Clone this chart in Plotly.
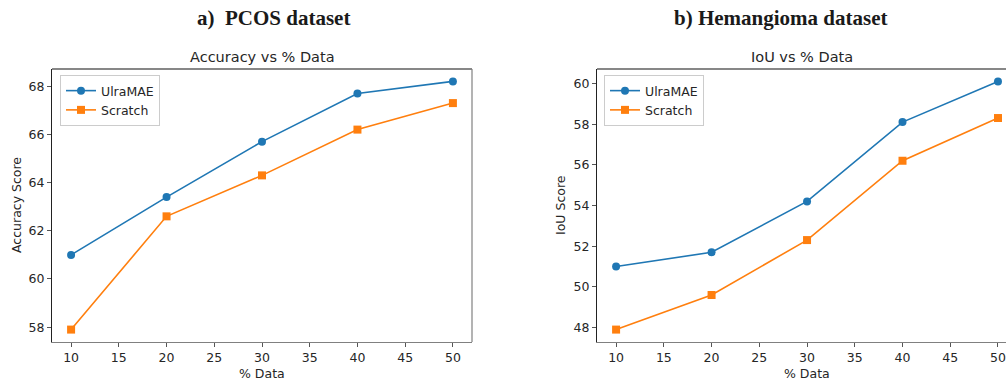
import plotly.graph_objects as go

pct_data = [10, 20, 30, 40, 50]
pcos_ultramae = [61.0, 63.4, 65.7, 67.7, 68.2]
pcos_scratch = [57.9, 62.6, 64.3, 66.2, 67.3]
hem_ultramae = [51.0, 51.7, 54.2, 58.1, 60.1]
hem_scratch = [47.9, 49.6, 52.3, 56.2, 58.3]
x_ticks = [10, 15, 20, 25, 30, 35, 40, 45, 50]
pcos_yticks = [58, 60, 62, 64, 66, 68]
hem_yticks = [48, 50, 52, 54, 56, 58, 60]

W, H = 1006, 383
BLUE, ORANGE = "#1f77b4", "#ff7f0e"
FONT = "DejaVu Sans"
TXT = "#262626"


def px(v):
    return v / W


def py(v):
    return 1 - v / H


fig = go.Figure()

for xa, ya, ys, lg in [("x", "y", (pcos_ultramae, pcos_scratch), "legend"),
                       ("x2", "y2", (hem_ultramae, hem_scratch), "legend2")]:
    fig.add_trace(go.Scatter(x=pct_data, y=ys[0], mode="lines+markers", name="UlraMAE",
                             line=dict(color=BLUE, width=1.6),
                             marker=dict(symbol="circle", size=8, color=BLUE),
                             xaxis=xa, yaxis=ya, legend=lg))
    fig.add_trace(go.Scatter(x=pct_data, y=ys[1], mode="lines+markers", name="Scratch",
                             line=dict(color=ORANGE, width=1.6),
                             marker=dict(symbol="square", size=8, color=ORANGE),
                             xaxis=xa, yaxis=ya, legend=lg))

y_dom = [py(342), py(69)]
axis_common = dict(showgrid=False, zeroline=False, ticks="outside", ticklen=4,
                   tickcolor="#555", tickfont=dict(family=FONT, size=12.5, color=TXT),
                   showline=True, linewidth=1.2)

fig.update_layout(
    width=W, height=H,
    margin=dict(l=0, r=0, t=0, b=0),
    paper_bgcolor="white", plot_bgcolor="white",
    xaxis=dict(domain=[px(52), px(472)], range=[8, 52], tickvals=x_ticks,
               linecolor="#808080", anchor="y", **axis_common),
    yaxis=dict(domain=y_dom, range=[57.385, 68.715], tickvals=pcos_yticks,
               linecolor="#222", anchor="x", **axis_common),
    xaxis2=dict(domain=[px(597), 1.0], range=[8, 50.84], tickvals=x_ticks,
                linecolor="#808080", anchor="y2", **axis_common),
    yaxis2=dict(domain=y_dom, range=[47.29, 60.71], tickvals=hem_yticks,
                linecolor="#222", anchor="x2", **axis_common),
    legend=dict(x=px(60), y=py(75), xanchor="left", yanchor="top",
                bgcolor="white", bordercolor="#cccccc", borderwidth=1,
                font=dict(family=FONT, size=12.5, color=TXT),
                itemwidth=30, tracegroupgap=0),
    legend2=dict(x=px(604), y=py(75), xanchor="left", yanchor="top",
                 bgcolor="white", bordercolor="#cccccc", borderwidth=1,
                 font=dict(family=FONT, size=12.5, color=TXT),
                 itemwidth=30, tracegroupgap=0),
)

# spines: top (black) and right (grey) for left plot, top for right plot
fig.add_shape(type="line", xref="x domain", yref="y domain", x0=0, x1=1, y0=1, y1=1,
              line=dict(color="#111", width=1.2))
fig.add_shape(type="line", xref="x domain", yref="y domain", x0=1, x1=1, y0=0, y1=1,
              line=dict(color="#808080", width=1.2))
fig.add_shape(type="line", xref="x2 domain", yref="y2 domain", x0=0, x1=1, y0=1, y1=1,
              line=dict(color="#111", width=1.2))

annotations = [
    dict(text="<b>a)  PCOS dataset</b>", x=px(273), y=py(18), font=dict(family="Liberation Serif", size=21, color="#1a1a1a")),
    dict(text="<b>b) Hemangioma dataset</b>", x=px(781), y=py(18), font=dict(family="Liberation Serif", size=21, color="#1a1a1a")),
    dict(text="Accuracy vs % Data", x=px(262), y=py(57), font=dict(family=FONT, size=14.5, color=TXT)),
    dict(text="IoU vs % Data", x=px(802), y=py(57), font=dict(family=FONT, size=14.5, color=TXT)),
    dict(text="% Data", x=px(262), y=py(373), font=dict(family=FONT, size=12.5, color=TXT)),
    dict(text="% Data", x=px(807), y=py(373), font=dict(family=FONT, size=12.5, color=TXT)),
    dict(text="Accuracy Score", x=px(16), y=py(205), textangle=-90, font=dict(family=FONT, size=12.5, color=TXT)),
    dict(text="IoU Score", x=px(560), y=py(205), textangle=-90, font=dict(family=FONT, size=12.5, color=TXT)),
]
for a in annotations:
    fig.add_annotation(xref="paper", yref="paper", showarrow=False, xanchor="center", yanchor="middle", **a)

fig.write_html("out.html", config={"displayModeBar": False},
               post_script="document.body.style.margin='0';document.body.style.overflow='hidden';")
